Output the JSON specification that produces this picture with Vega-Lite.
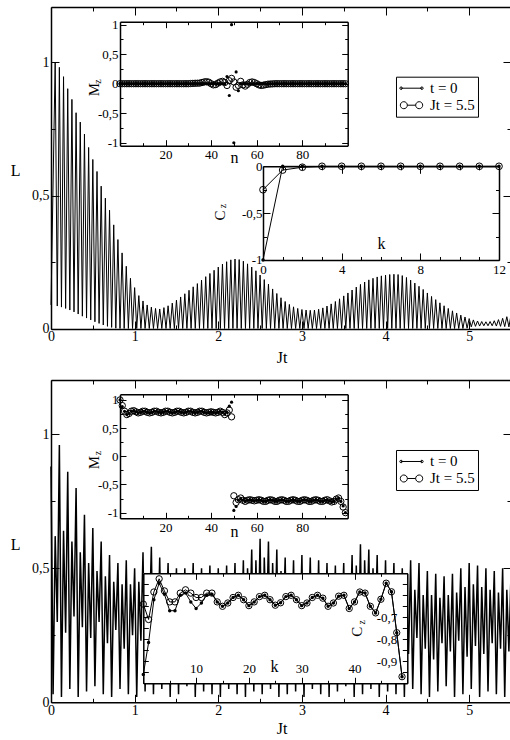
{
"$schema":"https://vega.github.io/schema/vega-lite/v6.json",
"width":460,"height":695.3,
"autosize":{"type":"none"},
"padding":{"left":51,"top":7,"right":0,"bottom":38},
"background":"white",
"config":{"view":{"stroke":null},"numberFormat":"~g",
"locale":{"number":{"decimal":",","thousands":".","grouping":[3],"currency":["",""],"minus":"-"}},
"axis":{"domainColor":"black","domainWidth":1.5,"tickColor":"black","tickWidth":1,"labelColor":"black","titleColor":"black","labelFont":"Liberation Serif","titleFont":"Liberation Serif","labelFontSize":13,"titleFontSize":15,"titleFontWeight":"normal","grid":false,"labelFlush":false,"labelOverlap":false,"zindex":1},
"legend":{"labelFont":"Liberation Serif","labelColor":"black"}},
"datasets":{
"Ltop":[{"t":0,"L":0.09},{"t":0.05,"L":1},{"t":0.075,"L":0.086},{"t":0.1,"L":0.98},{"t":0.125,"L":0.082},{"t":0.15,"L":0.945},{"t":0.175,"L":0.077},{"t":0.2,"L":0.9},{"t":0.225,"L":0.071},{"t":0.25,"L":0.86},{"t":0.275,"L":0.064},{"t":0.3,"L":0.81},{"t":0.325,"L":0.056},{"t":0.35,"L":0.775},{"t":0.375,"L":0.048},{"t":0.4,"L":0.73},{"t":0.425,"L":0.041},{"t":0.45,"L":0.68},{"t":0.475,"L":0.034},{"t":0.5,"L":0.635},{"t":0.525,"L":0.027},{"t":0.55,"L":0.59},{"t":0.575,"L":0.021},{"t":0.6,"L":0.535},{"t":0.625,"L":0.015},{"t":0.65,"L":0.49},{"t":0.675,"L":0.01},{"t":0.7,"L":0.445},{"t":0.725,"L":0.006},{"t":0.75,"L":0.39},{"t":0.775,"L":0.003},{"t":0.8,"L":0.335},{"t":0.825,"L":0.002},{"t":0.85,"L":0.285},{"t":0.875,"L":0.002},{"t":0.9,"L":0.235},{"t":0.925,"L":0.002},{"t":0.95,"L":0.19},{"t":0.975,"L":0.002},{"t":1,"L":0.155},{"t":1.025,"L":0.002},{"t":1.05,"L":0.125},{"t":1.075,"L":0.002},{"t":1.1,"L":0.105},{"t":1.125,"L":0.002},{"t":1.15,"L":0.09},{"t":1.175,"L":0.002},{"t":1.2,"L":0.082},{"t":1.225,"L":0.002},{"t":1.25,"L":0.077},{"t":1.275,"L":0.002},{"t":1.3,"L":0.075},{"t":1.325,"L":0.002},{"t":1.35,"L":0.08},{"t":1.375,"L":0.002},{"t":1.4,"L":0.087},{"t":1.425,"L":0.002},{"t":1.45,"L":0.097},{"t":1.475,"L":0.002},{"t":1.5,"L":0.108},{"t":1.525,"L":0.002},{"t":1.55,"L":0.12},{"t":1.575,"L":0.002},{"t":1.6,"L":0.132},{"t":1.625,"L":0.002},{"t":1.65,"L":0.145},{"t":1.675,"L":0.002},{"t":1.7,"L":0.158},{"t":1.725,"L":0.002},{"t":1.75,"L":0.17},{"t":1.775,"L":0.002},{"t":1.8,"L":0.183},{"t":1.825,"L":0.002},{"t":1.85,"L":0.196},{"t":1.875,"L":0.002},{"t":1.9,"L":0.208},{"t":1.925,"L":0.002},{"t":1.95,"L":0.22},{"t":1.975,"L":0.002},{"t":2,"L":0.232},{"t":2.025,"L":0.002},{"t":2.05,"L":0.243},{"t":2.075,"L":0.002},{"t":2.1,"L":0.252},{"t":2.125,"L":0.002},{"t":2.15,"L":0.259},{"t":2.175,"L":0.002},{"t":2.2,"L":0.262},{"t":2.225,"L":0.002},{"t":2.25,"L":0.26},{"t":2.275,"L":0.002},{"t":2.3,"L":0.254},{"t":2.325,"L":0.002},{"t":2.35,"L":0.244},{"t":2.375,"L":0.002},{"t":2.4,"L":0.232},{"t":2.425,"L":0.002},{"t":2.45,"L":0.218},{"t":2.475,"L":0.002},{"t":2.5,"L":0.202},{"t":2.525,"L":0.002},{"t":2.55,"L":0.185},{"t":2.575,"L":0.002},{"t":2.6,"L":0.168},{"t":2.625,"L":0.002},{"t":2.65,"L":0.15},{"t":2.675,"L":0.002},{"t":2.7,"L":0.133},{"t":2.725,"L":0.002},{"t":2.75,"L":0.117},{"t":2.775,"L":0.002},{"t":2.8,"L":0.103},{"t":2.825,"L":0.002},{"t":2.85,"L":0.092},{"t":2.875,"L":0.002},{"t":2.9,"L":0.083},{"t":2.925,"L":0.002},{"t":2.95,"L":0.077},{"t":2.975,"L":0.002},{"t":3,"L":0.073},{"t":3.025,"L":0.002},{"t":3.05,"L":0.071},{"t":3.075,"L":0.002},{"t":3.1,"L":0.07},{"t":3.125,"L":0.002},{"t":3.15,"L":0.071},{"t":3.175,"L":0.002},{"t":3.2,"L":0.074},{"t":3.225,"L":0.002},{"t":3.25,"L":0.079},{"t":3.275,"L":0.002},{"t":3.3,"L":0.086},{"t":3.325,"L":0.002},{"t":3.35,"L":0.094},{"t":3.375,"L":0.002},{"t":3.4,"L":0.103},{"t":3.425,"L":0.002},{"t":3.45,"L":0.113},{"t":3.475,"L":0.002},{"t":3.5,"L":0.124},{"t":3.525,"L":0.002},{"t":3.55,"L":0.135},{"t":3.575,"L":0.002},{"t":3.6,"L":0.146},{"t":3.625,"L":0.002},{"t":3.65,"L":0.157},{"t":3.675,"L":0.002},{"t":3.7,"L":0.167},{"t":3.725,"L":0.002},{"t":3.75,"L":0.176},{"t":3.775,"L":0.002},{"t":3.8,"L":0.184},{"t":3.825,"L":0.002},{"t":3.85,"L":0.19},{"t":3.875,"L":0.002},{"t":3.9,"L":0.195},{"t":3.925,"L":0.002},{"t":3.95,"L":0.199},{"t":3.975,"L":0.002},{"t":4,"L":0.202},{"t":4.025,"L":0.002},{"t":4.05,"L":0.204},{"t":4.075,"L":0.002},{"t":4.1,"L":0.205},{"t":4.125,"L":0.002},{"t":4.15,"L":0.204},{"t":4.175,"L":0.002},{"t":4.2,"L":0.2},{"t":4.225,"L":0.002},{"t":4.25,"L":0.193},{"t":4.275,"L":0.002},{"t":4.3,"L":0.183},{"t":4.325,"L":0.002},{"t":4.35,"L":0.172},{"t":4.375,"L":0.002},{"t":4.4,"L":0.16},{"t":4.425,"L":0.002},{"t":4.45,"L":0.148},{"t":4.475,"L":0.002},{"t":4.5,"L":0.135},{"t":4.525,"L":0.002},{"t":4.55,"L":0.122},{"t":4.575,"L":0.002},{"t":4.6,"L":0.11},{"t":4.625,"L":0.002},{"t":4.65,"L":0.098},{"t":4.675,"L":0.002},{"t":4.7,"L":0.087},{"t":4.725,"L":0.002},{"t":4.75,"L":0.077},{"t":4.775,"L":0.002},{"t":4.8,"L":0.068},{"t":4.825,"L":0.002},{"t":4.85,"L":0.06},{"t":4.875,"L":0.002},{"t":4.9,"L":0.052},{"t":4.925,"L":0.002},{"t":4.95,"L":0.045},{"t":4.975,"L":0.003},{"t":5,"L":0.039},{"t":5.025,"L":0.008},{"t":5.05,"L":0.034},{"t":5.075,"L":0.01},{"t":5.1,"L":0.03},{"t":5.125,"L":0.011},{"t":5.15,"L":0.028},{"t":5.175,"L":0.012},{"t":5.2,"L":0.027},{"t":5.225,"L":0.012},{"t":5.25,"L":0.028},{"t":5.275,"L":0.012},{"t":5.3,"L":0.031},{"t":5.325,"L":0.011},{"t":5.35,"L":0.035},{"t":5.375,"L":0.01},{"t":5.4,"L":0.04},{"t":5.425,"L":0.009},{"t":5.45,"L":0.046},{"t":5.475,"L":0.008},{"t":5.5,"L":0.052}],
"Lbot":[{"t":0,"L":0.88},{"t":0.025,"L":0.03},{"t":0.05,"L":0.62},{"t":0.075,"L":0.3},{"t":0.1,"L":0.96},{"t":0.125,"L":0.02},{"t":0.15,"L":0.64},{"t":0.175,"L":0.26},{"t":0.2,"L":0.86},{"t":0.225,"L":0.05},{"t":0.25,"L":0.6},{"t":0.275,"L":0.32},{"t":0.3,"L":0.8},{"t":0.325,"L":0.02},{"t":0.35,"L":0.56},{"t":0.375,"L":0.28},{"t":0.4,"L":0.7},{"t":0.425,"L":0.04},{"t":0.45,"L":0.52},{"t":0.475,"L":0.24},{"t":0.5,"L":0.65},{"t":0.525,"L":0.06},{"t":0.55,"L":0.49},{"t":0.575,"L":0.3},{"t":0.6,"L":0.6},{"t":0.625,"L":0.03},{"t":0.65,"L":0.47},{"t":0.675,"L":0.22},{"t":0.7,"L":0.55},{"t":0.725,"L":0.02},{"t":0.75,"L":0.45},{"t":0.775,"L":0.27},{"t":0.8,"L":0.52},{"t":0.825,"L":0.05},{"t":0.85,"L":0.44},{"t":0.875,"L":0.2},{"t":0.9,"L":0.53},{"t":0.925,"L":0.03},{"t":0.95,"L":0.44},{"t":0.975,"L":0.25},{"t":1,"L":0.5},{"t":1.025,"L":0.02},{"t":1.05,"L":0.45},{"t":1.075,"L":0.23},{"t":1.1,"L":0.56},{"t":1.125,"L":0.04},{"t":1.15,"L":0.47},{"t":1.175,"L":0.28},{"t":1.2,"L":0.58},{"t":1.225,"L":0.03},{"t":1.25,"L":0.46},{"t":1.275,"L":0.21},{"t":1.3,"L":0.54},{"t":1.325,"L":0.05},{"t":1.35,"L":0.44},{"t":1.375,"L":0.26},{"t":1.4,"L":0.52},{"t":1.425,"L":0.02},{"t":1.45,"L":0.43},{"t":1.475,"L":0.24},{"t":1.5,"L":0.5},{"t":1.525,"L":0.03},{"t":1.55,"L":0.44},{"t":1.575,"L":0.19},{"t":1.6,"L":0.5},{"t":1.625,"L":0.06},{"t":1.65,"L":0.45},{"t":1.675,"L":0.27},{"t":1.7,"L":0.52},{"t":1.725,"L":0.02},{"t":1.75,"L":0.44},{"t":1.775,"L":0.22},{"t":1.8,"L":0.5},{"t":1.825,"L":0.04},{"t":1.85,"L":0.45},{"t":1.875,"L":0.25},{"t":1.9,"L":0.51},{"t":1.925,"L":0.03},{"t":1.95,"L":0.44},{"t":1.975,"L":0.2},{"t":2,"L":0.5},{"t":2.025,"L":0.02},{"t":2.05,"L":0.45},{"t":2.075,"L":0.24},{"t":2.1,"L":0.51},{"t":2.125,"L":0.05},{"t":2.15,"L":0.46},{"t":2.175,"L":0.28},{"t":2.2,"L":0.52},{"t":2.225,"L":0.03},{"t":2.25,"L":0.47},{"t":2.275,"L":0.22},{"t":2.3,"L":0.53},{"t":2.325,"L":0.02},{"t":2.35,"L":0.5},{"t":2.375,"L":0.26},{"t":2.4,"L":0.57},{"t":2.425,"L":0.04},{"t":2.45,"L":0.53},{"t":2.475,"L":0.2},{"t":2.5,"L":0.61},{"t":2.525,"L":0.03},{"t":2.55,"L":0.54},{"t":2.575,"L":0.25},{"t":2.6,"L":0.6},{"t":2.625,"L":0.05},{"t":2.65,"L":0.52},{"t":2.675,"L":0.23},{"t":2.7,"L":0.57},{"t":2.725,"L":0.02},{"t":2.75,"L":0.49},{"t":2.775,"L":0.27},{"t":2.8,"L":0.54},{"t":2.825,"L":0.03},{"t":2.85,"L":0.47},{"t":2.875,"L":0.21},{"t":2.9,"L":0.53},{"t":2.925,"L":0.04},{"t":2.95,"L":0.48},{"t":2.975,"L":0.24},{"t":3,"L":0.55},{"t":3.025,"L":0.02},{"t":3.05,"L":0.48},{"t":3.075,"L":0.26},{"t":3.1,"L":0.54},{"t":3.125,"L":0.05},{"t":3.15,"L":0.46},{"t":3.175,"L":0.2},{"t":3.2,"L":0.53},{"t":3.225,"L":0.03},{"t":3.25,"L":0.45},{"t":3.275,"L":0.25},{"t":3.3,"L":0.52},{"t":3.325,"L":0.02},{"t":3.35,"L":0.44},{"t":3.375,"L":0.22},{"t":3.4,"L":0.51},{"t":3.425,"L":0.04},{"t":3.45,"L":0.45},{"t":3.475,"L":0.27},{"t":3.5,"L":0.52},{"t":3.525,"L":0.06},{"t":3.55,"L":0.47},{"t":3.575,"L":0.23},{"t":3.6,"L":0.55},{"t":3.625,"L":0.02},{"t":3.65,"L":0.51},{"t":3.675,"L":0.2},{"t":3.7,"L":0.59},{"t":3.725,"L":0.03},{"t":3.75,"L":0.53},{"t":3.775,"L":0.26},{"t":3.8,"L":0.57},{"t":3.825,"L":0.05},{"t":3.85,"L":0.5},{"t":3.875,"L":0.24},{"t":3.9,"L":0.55},{"t":3.925,"L":0.02},{"t":3.95,"L":0.48},{"t":3.975,"L":0.21},{"t":4,"L":0.53},{"t":4.025,"L":0.04},{"t":4.05,"L":0.47},{"t":4.075,"L":0.25},{"t":4.1,"L":0.52},{"t":4.125,"L":0.03},{"t":4.15,"L":0.45},{"t":4.175,"L":0.22},{"t":4.2,"L":0.5},{"t":4.225,"L":0.02},{"t":4.25,"L":0.43},{"t":4.275,"L":0.18},{"t":4.3,"L":0.53},{"t":4.325,"L":0.05},{"t":4.35,"L":0.42},{"t":4.375,"L":0.24},{"t":4.4,"L":0.52},{"t":4.425,"L":0.03},{"t":4.45,"L":0.4},{"t":4.475,"L":0.2},{"t":4.5,"L":0.49},{"t":4.525,"L":0.02},{"t":4.55,"L":0.4},{"t":4.575,"L":0.16},{"t":4.6,"L":0.48},{"t":4.625,"L":0.04},{"t":4.65,"L":0.39},{"t":4.675,"L":0.22},{"t":4.7,"L":0.47},{"t":4.725,"L":0.06},{"t":4.75,"L":0.4},{"t":4.775,"L":0.19},{"t":4.8,"L":0.48},{"t":4.825,"L":0.02},{"t":4.85,"L":0.41},{"t":4.875,"L":0.23},{"t":4.9,"L":0.5},{"t":4.925,"L":0.03},{"t":4.95,"L":0.43},{"t":4.975,"L":0.17},{"t":5,"L":0.52},{"t":5.025,"L":0.05},{"t":5.05,"L":0.44},{"t":5.075,"L":0.21},{"t":5.1,"L":0.51},{"t":5.125,"L":0.02},{"t":5.15,"L":0.43},{"t":5.175,"L":0.18},{"t":5.2,"L":0.5},{"t":5.225,"L":0.04},{"t":5.25,"L":0.42},{"t":5.275,"L":0.22},{"t":5.3,"L":0.49},{"t":5.325,"L":0.03},{"t":5.35,"L":0.41},{"t":5.375,"L":0.2},{"t":5.4,"L":0.5},{"t":5.425,"L":0.02},{"t":5.45,"L":0.42},{"t":5.475,"L":0.19},{"t":5.5,"L":0.48}],
"Mtop":[{"n":0,"a":0,"b":0},{"n":1,"a":0,"b":0},{"n":2,"a":0,"b":0},{"n":3,"a":0,"b":0},{"n":4,"a":0,"b":0},{"n":5,"a":0,"b":0},{"n":6,"a":0,"b":0},{"n":7,"a":0,"b":0},{"n":8,"a":0,"b":0},{"n":9,"a":0,"b":0},{"n":10,"a":0,"b":0},{"n":11,"a":0,"b":0},{"n":12,"a":0,"b":0},{"n":13,"a":0,"b":0},{"n":14,"a":0,"b":0},{"n":15,"a":0,"b":0},{"n":16,"a":0,"b":0},{"n":17,"a":0,"b":0},{"n":18,"a":0,"b":0},{"n":19,"a":0,"b":0},{"n":20,"a":0,"b":0},{"n":21,"a":0,"b":0},{"n":22,"a":0,"b":0},{"n":23,"a":0,"b":0},{"n":24,"a":0,"b":0},{"n":25,"a":0,"b":0},{"n":26,"a":0,"b":0},{"n":27,"a":0,"b":0},{"n":28,"a":0,"b":0},{"n":29,"a":0,"b":0},{"n":30,"a":0,"b":0},{"n":31,"a":0,"b":0.003},{"n":32,"a":0,"b":0.005},{"n":33,"a":0,"b":0.007},{"n":34,"a":0,"b":0.008},{"n":35,"a":0,"b":0.01},{"n":36,"a":0,"b":0.02},{"n":37,"a":0,"b":0.03},{"n":38,"a":0,"b":0.035},{"n":39,"a":0,"b":0.025},{"n":40,"a":0,"b":0},{"n":41,"a":0,"b":-0.02},{"n":42,"a":0,"b":-0.015},{"n":43,"a":0,"b":0.01},{"n":44,"a":0,"b":0.03},{"n":45,"a":0,"b":0.04},{"n":46,"a":0,"b":0.02},{"n":47,"a":0.12,"b":-0.03},{"n":48,"a":-0.2,"b":0.05},{"n":49,"a":1,"b":0.09},{"n":50,"a":-1,"b":0.03},{"n":51,"a":0.2,"b":-0.06},{"n":52,"a":-0.12,"b":-0.03},{"n":53,"a":0,"b":0.04},{"n":54,"a":0,"b":-0.02},{"n":55,"a":0,"b":-0.04},{"n":56,"a":0,"b":-0.01},{"n":57,"a":0,"b":0.02},{"n":58,"a":0,"b":0.03},{"n":59,"a":0,"b":0.02},{"n":60,"a":0,"b":0},{"n":61,"a":0,"b":-0.02},{"n":62,"a":0,"b":-0.03},{"n":63,"a":0,"b":-0.025},{"n":64,"a":0,"b":-0.015},{"n":65,"a":0,"b":-0.008},{"n":66,"a":0,"b":-0.005},{"n":67,"a":0,"b":-0.003},{"n":68,"a":0,"b":0},{"n":69,"a":0,"b":0},{"n":70,"a":0,"b":0},{"n":71,"a":0,"b":0},{"n":72,"a":0,"b":0},{"n":73,"a":0,"b":0},{"n":74,"a":0,"b":0},{"n":75,"a":0,"b":0},{"n":76,"a":0,"b":0},{"n":77,"a":0,"b":0},{"n":78,"a":0,"b":0},{"n":79,"a":0,"b":0},{"n":80,"a":0,"b":0},{"n":81,"a":0,"b":0},{"n":82,"a":0,"b":0},{"n":83,"a":0,"b":0},{"n":84,"a":0,"b":0},{"n":85,"a":0,"b":0},{"n":86,"a":0,"b":0},{"n":87,"a":0,"b":0},{"n":88,"a":0,"b":0},{"n":89,"a":0,"b":0},{"n":90,"a":0,"b":0},{"n":91,"a":0,"b":0},{"n":92,"a":0,"b":0},{"n":93,"a":0,"b":0},{"n":94,"a":0,"b":0},{"n":95,"a":0,"b":0},{"n":96,"a":0,"b":0},{"n":97,"a":0,"b":0},{"n":98,"a":0,"b":0},{"n":99,"a":0,"b":0}],
"Mbot":[{"n":0,"a":1,"b":1},{"n":1,"a":0.88,"b":0.9},{"n":2,"a":0.8,"b":0.8},{"n":3,"a":0.74,"b":0.74},{"n":4,"a":0.76,"b":0.76},{"n":5,"a":0.8,"b":0.8},{"n":6,"a":0.81,"b":0.81},{"n":7,"a":0.79,"b":0.79},{"n":8,"a":0.77,"b":0.77},{"n":9,"a":0.78,"b":0.78},{"n":10,"a":0.8,"b":0.8},{"n":11,"a":0.8,"b":0.8},{"n":12,"a":0.78,"b":0.78},{"n":13,"a":0.77,"b":0.77},{"n":14,"a":0.78,"b":0.78},{"n":15,"a":0.8,"b":0.8},{"n":16,"a":0.8,"b":0.8},{"n":17,"a":0.78,"b":0.78},{"n":18,"a":0.77,"b":0.77},{"n":19,"a":0.78,"b":0.78},{"n":20,"a":0.8,"b":0.8},{"n":21,"a":0.8,"b":0.8},{"n":22,"a":0.78,"b":0.78},{"n":23,"a":0.77,"b":0.77},{"n":24,"a":0.78,"b":0.78},{"n":25,"a":0.8,"b":0.8},{"n":26,"a":0.8,"b":0.8},{"n":27,"a":0.78,"b":0.78},{"n":28,"a":0.77,"b":0.77},{"n":29,"a":0.78,"b":0.78},{"n":30,"a":0.8,"b":0.8},{"n":31,"a":0.8,"b":0.8},{"n":32,"a":0.78,"b":0.78},{"n":33,"a":0.77,"b":0.77},{"n":34,"a":0.78,"b":0.78},{"n":35,"a":0.8,"b":0.8},{"n":36,"a":0.8,"b":0.8},{"n":37,"a":0.78,"b":0.78},{"n":38,"a":0.77,"b":0.77},{"n":39,"a":0.78,"b":0.78},{"n":40,"a":0.79,"b":0.79},{"n":41,"a":0.78,"b":0.78},{"n":42,"a":0.77,"b":0.77},{"n":43,"a":0.78,"b":0.78},{"n":44,"a":0.8,"b":0.8},{"n":45,"a":0.78,"b":0.78},{"n":46,"a":0.75,"b":0.74},{"n":47,"a":0.78,"b":0.77},{"n":48,"a":0.89,"b":0.82},{"n":49,"a":0.96,"b":0.7},{"n":50,"a":-0.96,"b":-0.7},{"n":51,"a":-0.89,"b":-0.82},{"n":52,"a":-0.78,"b":-0.77},{"n":53,"a":-0.75,"b":-0.74},{"n":54,"a":-0.78,"b":-0.78},{"n":55,"a":-0.8,"b":-0.8},{"n":56,"a":-0.78,"b":-0.78},{"n":57,"a":-0.77,"b":-0.77},{"n":58,"a":-0.78,"b":-0.78},{"n":59,"a":-0.79,"b":-0.79},{"n":60,"a":-0.78,"b":-0.78},{"n":61,"a":-0.77,"b":-0.77},{"n":62,"a":-0.78,"b":-0.78},{"n":63,"a":-0.8,"b":-0.8},{"n":64,"a":-0.8,"b":-0.8},{"n":65,"a":-0.78,"b":-0.78},{"n":66,"a":-0.77,"b":-0.77},{"n":67,"a":-0.78,"b":-0.78},{"n":68,"a":-0.8,"b":-0.8},{"n":69,"a":-0.8,"b":-0.8},{"n":70,"a":-0.78,"b":-0.78},{"n":71,"a":-0.77,"b":-0.77},{"n":72,"a":-0.78,"b":-0.78},{"n":73,"a":-0.8,"b":-0.8},{"n":74,"a":-0.8,"b":-0.8},{"n":75,"a":-0.78,"b":-0.78},{"n":76,"a":-0.77,"b":-0.77},{"n":77,"a":-0.78,"b":-0.78},{"n":78,"a":-0.8,"b":-0.8},{"n":79,"a":-0.8,"b":-0.8},{"n":80,"a":-0.78,"b":-0.78},{"n":81,"a":-0.77,"b":-0.77},{"n":82,"a":-0.78,"b":-0.78},{"n":83,"a":-0.8,"b":-0.8},{"n":84,"a":-0.8,"b":-0.8},{"n":85,"a":-0.78,"b":-0.78},{"n":86,"a":-0.77,"b":-0.77},{"n":87,"a":-0.78,"b":-0.78},{"n":88,"a":-0.8,"b":-0.8},{"n":89,"a":-0.8,"b":-0.8},{"n":90,"a":-0.78,"b":-0.78},{"n":91,"a":-0.77,"b":-0.77},{"n":92,"a":-0.79,"b":-0.79},{"n":93,"a":-0.81,"b":-0.81},{"n":94,"a":-0.8,"b":-0.8},{"n":95,"a":-0.76,"b":-0.76},{"n":96,"a":-0.74,"b":-0.74},{"n":97,"a":-0.8,"b":-0.8},{"n":98,"a":-0.88,"b":-0.9},{"n":99,"a":-1,"b":-1}],
"Ctop":[{"k":0,"a":-1,"b":-0.25},{"k":1,"a":0,"b":-0.04},{"k":2,"a":0,"b":-0.01},{"k":3,"a":0,"b":0},{"k":4,"a":0,"b":0},{"k":5,"a":0,"b":0},{"k":6,"a":0,"b":0},{"k":7,"a":0,"b":0},{"k":8,"a":0,"b":0},{"k":9,"a":0,"b":0},{"k":10,"a":0,"b":0},{"k":11,"a":0,"b":0},{"k":12,"a":0,"b":0}],
"Cbot":[{"k":0,"a":-0.96,"b":-0.64},{"k":1,"a":-0.815,"b":-0.71},{"k":2,"a":-0.62,"b":-0.585},{"k":3,"a":-0.545,"b":-0.525},{"k":4,"a":-0.595,"b":-0.58},{"k":5,"a":-0.67,"b":-0.63},{"k":6,"a":-0.67,"b":-0.63},{"k":7,"a":-0.6,"b":-0.59},{"k":8,"a":-0.59,"b":-0.575},{"k":9,"a":-0.63,"b":-0.59},{"k":10,"a":-0.66,"b":-0.61},{"k":11,"a":-0.635,"b":-0.61},{"k":12,"a":-0.6,"b":-0.59},{"k":13,"a":-0.595,"b":-0.59},{"k":14,"a":-0.63,"b":-0.63},{"k":15,"a":-0.65,"b":-0.65},{"k":16,"a":-0.635,"b":-0.635},{"k":17,"a":-0.61,"b":-0.61},{"k":18,"a":-0.6,"b":-0.6},{"k":19,"a":-0.62,"b":-0.62},{"k":20,"a":-0.647,"b":-0.647},{"k":21,"a":-0.63,"b":-0.63},{"k":22,"a":-0.606,"b":-0.606},{"k":23,"a":-0.6,"b":-0.6},{"k":24,"a":-0.62,"b":-0.62},{"k":25,"a":-0.645,"b":-0.645},{"k":26,"a":-0.634,"b":-0.634},{"k":27,"a":-0.606,"b":-0.606},{"k":28,"a":-0.6,"b":-0.6},{"k":29,"a":-0.62,"b":-0.62},{"k":30,"a":-0.647,"b":-0.647},{"k":31,"a":-0.635,"b":-0.635},{"k":32,"a":-0.61,"b":-0.61},{"k":33,"a":-0.6,"b":-0.6},{"k":34,"a":-0.613,"b":-0.613},{"k":35,"a":-0.65,"b":-0.65},{"k":36,"a":-0.635,"b":-0.635},{"k":37,"a":-0.604,"b":-0.604},{"k":38,"a":-0.6,"b":-0.6},{"k":39,"a":-0.66,"b":-0.66},{"k":40,"a":-0.63,"b":-0.63},{"k":41,"a":-0.585,"b":-0.585},{"k":42,"a":-0.59,"b":-0.59},{"k":43,"a":-0.65,"b":-0.65},{"k":44,"a":-0.68,"b":-0.68},{"k":45,"a":-0.618,"b":-0.618},{"k":46,"a":-0.545,"b":-0.545},{"k":47,"a":-0.584,"b":-0.584},{"k":48,"a":-0.77,"b":-0.77},{"k":49,"a":-0.97,"b":-0.97}],
"leg":[{"s":"t = 0"},{"s":"Jt = 5.5"}]
},
"resolve":{"scale":{"x":"independent","y":"independent","shape":"independent"},"legend":{"shape":"independent"}},
"layer":[
{"data":{"name":"Ltop"},"mark":{"type":"line","color":"black","strokeWidth":1},
 "encoding":{
 "x":{"field":"t","type":"quantitative","scale":{"domain":[0,5.5],"range":[0,460],"nice":false,"zero":false},
  "axis":{"zindex":1,"orient":"bottom","offset":-373.3,"values":[0,0.5,1,1.5,2,2.5,3,3.5,4,4.5,5,5.5],"labelExpr":"datum.value % 1 === 0 ? datum.label : ''","tickSize":{"condition":{"test":"datum.value % 1 === 0","value":-8},"value":-4},"labelPadding":9,"labelFontSize":14,"title":"Jt","titleX":230.7,"titleY":34,"titleAlign":"center","titleBaseline":"alphabetic","titleFontSize":16}},
 "y":{"field":"L","type":"quantitative","scale":{"domain":[0,1.206],"range":[322,0],"nice":false,"zero":false},
  "axis":{"zindex":1,"orient":"left","values":[0,0.25,0.5,0.75,1],"labelExpr":"(datum.value*2) % 1 === 0 ? datum.label : ''","tickSize":{"condition":{"test":"(datum.value*2) % 1 === 0","value":-8},"value":-4},"labelPadding":10,"labelFontSize":14,"title":"L","titleAngle":0,"titleX":-36,"titleY":168.7,"titleAlign":"center","titleBaseline":"alphabetic","titleFontSize":16}}}},
{"data":{"values":[{}]},"mark":{"type":"point","opacity":0},
 "encoding":{
 "x":{"datum":0,"type":"quantitative","scale":{"domain":[0,5.5],"range":[0,460],"nice":false,"zero":false},
  "axis":{"zindex":1,"orient":"top","values":[0,0.5,1,1.5,2,2.5,3,3.5,4,4.5,5,5.5],"labels":false,"tickSize":{"condition":{"test":"datum.value % 1 === 0","value":-8},"value":-4},"title":null}},
 "y":{"datum":0,"type":"quantitative","scale":{"domain":[0,1.206],"range":[322,0],"nice":false,"zero":false},
  "axis":{"zindex":1,"orient":"right","values":[0,0.25,0.5,0.75,1],"labels":false,"tickSize":{"condition":{"test":"(datum.value*2) % 1 === 0","value":-8},"value":-4},"title":null}}}},
{"data":{"values":[{}]},"mark":{"type":"rect","fill":"white"},
 "encoding":{
 "x":{"datum":0,"type":"quantitative","scale":{"domain":[0,100],"range":[69,296.7],"nice":false,"zero":false},"axis":null},"x2":{"datum":100},
 "y":{"datum":-1.05,"type":"quantitative","scale":{"domain":[-1.05,1.05],"range":[138.7,14.7],"nice":false,"zero":false},"axis":null},"y2":{"datum":1.05}}},
{"data":{"name":"Mtop"},
 "encoding":{
  "x":{"field":"n","type":"quantitative","scale":{"domain":[0,100],"range":[69,296.7],"nice":false,"zero":false},
   "axis":{"zindex":1,"orient":"bottom","offset":-556.6,"values":[10,20,30,40,50,60,70,80,90],"format":"d","labelExpr":"datum.value % 20 === 0 ? datum.label : ''","tickSize":{"condition":{"test":"datum.value % 20 === 0","value":-6},"value":-3},"labelPadding":9,"title":"n","titleX":183,"titleY":17.3,"titleAlign":"center","titleBaseline":"alphabetic","titleFontSize":16}},
  "y":{"field":"b","type":"quantitative","scale":{"domain":[-1.05,1.05],"range":[138.7,14.7],"nice":false,"zero":false},
   "axis":{"zindex":1,"orient":"left","offset":-69,"values":[-1,-0.75,-0.5,-0.25,0,0.25,0.5,0.75,1],"labelExpr":"(datum.value*2) % 1 === 0 ? datum.label : ''","tickSize":{"condition":{"test":"(datum.value*2) % 1 === 0","value":-6},"value":-3},"labelPadding":8,"title":"M","titleX":-26.7,"titleY":82,"titleAngle":270,"titleAlign":"center","titleBaseline":"middle","titleFontSize":15}}},
 "layer":[
 {"mark":{"type":"point","shape":"circle","filled":false,"size":40,"color":"black","strokeWidth":1,"opacity":1}},
 {"mark":{"type":"point","shape":"circle","filled":true,"size":10,"color":"black","opacity":1},"encoding":{
  "y":{"field":"a","type":"quantitative"}}}
]},
{"data":{"values":[{}]},"mark":{"type":"point","opacity":0},
 "encoding":{
 "x":{"datum":0,"type":"quantitative","scale":{"domain":[0,100],"range":[69,296.7],"nice":false,"zero":false},
  "axis":{"zindex":1,"orient":"top","offset":-14.7,"values":[10,20,30,40,50,60,70,80,90],"labels":false,"tickSize":{"condition":{"test":"datum.value % 20 === 0","value":-6},"value":-3},"title":null}},
 "y":{"datum":0,"type":"quantitative","scale":{"domain":[-1.05,1.05],"range":[138.7,14.7],"nice":false,"zero":false},
  "axis":{"zindex":1,"orient":"right","offset":-163.3,"values":[-1,-0.75,-0.5,-0.25,0,0.25,0.5,0.75,1],"labels":false,"tickSize":{"condition":{"test":"(datum.value*2) % 1 === 0","value":-6},"value":-3},"title":"z","titleX":-250.5,"titleY":74,"titleAngle":270,"titleAlign":"center","titleBaseline":"middle","titleFontSize":10}}}},
{"data":{"values":[{}]},"mark":{"type":"rect","fill":"white"},
 "encoding":{
 "x":{"datum":0,"type":"quantitative","scale":{"domain":[0,12],"range":[212,448],"nice":false,"zero":false},"axis":null},"x2":{"datum":12},
 "y":{"datum":-1,"type":"quantitative","scale":{"domain":[-1,0],"range":[253,159.3],"nice":false,"zero":false},"axis":null},"y2":{"datum":0}}},
{"data":{"name":"Ctop"},
 "encoding":{
  "x":{"field":"k","type":"quantitative","scale":{"domain":[0,12],"range":[212,448],"nice":false,"zero":false},
   "axis":{"zindex":1,"orient":"bottom","offset":-442.3,"values":[0,1,2,3,4,5,6,7,8,9,10,11,12],"format":"d","labelExpr":"datum.value % 4 === 0 ? datum.label : ''","tickSize":{"condition":{"test":"datum.value % 4 === 0","value":-7},"value":-3.5},"labelPadding":10.2,"title":"k","titleX":330,"titleY":-11.7,"titleAlign":"center","titleBaseline":"alphabetic","titleFontSize":16}},
  "y":{"field":"b","type":"quantitative","scale":{"domain":[-1,0],"range":[253,159.3],"nice":false,"zero":false},
   "axis":{"zindex":1,"orient":"left","offset":-212,"values":[-1,-0.75,-0.5,-0.25,0],"labelExpr":"(datum.value*2) % 1 === 0 ? datum.label : ''","tickSize":{"condition":{"test":"(datum.value*2) % 1 === 0","value":-7},"value":-3.5},"labelPadding":8,"title":"C","titleX":-43.5,"titleY":208,"titleAngle":270,"titleAlign":"center","titleBaseline":"middle","titleFontSize":15}}},
 "layer":[
 {"mark":{"type":"line","color":"black","strokeWidth":1},"encoding":{"y":{"field":"a","type":"quantitative"}}},
 {"mark":{"type":"line","color":"black","strokeWidth":1}},
 {"mark":{"type":"point","shape":"circle","filled":false,"size":45,"color":"black","strokeWidth":1,"opacity":1}},
 {"mark":{"type":"point","shape":"circle","filled":true,"size":12,"color":"black","opacity":1},"encoding":{"y":{"field":"a","type":"quantitative"}}}
]},
{"data":{"values":[{}]},"mark":{"type":"point","opacity":0},
 "encoding":{
 "x":{"datum":0,"type":"quantitative","scale":{"domain":[0,12],"range":[212,448],"nice":false,"zero":false},
  "axis":{"zindex":1,"orient":"top","offset":-159.3,"values":[0,1,2,3,4,5,6,7,8,9,10,11,12],"labels":false,"tickSize":{"condition":{"test":"datum.value % 4 === 0","value":-7},"value":-3.5},"title":null}},
 "y":{"datum":0,"type":"quantitative","scale":{"domain":[-1,0],"range":[253,159.3],"nice":false,"zero":false},
  "axis":{"zindex":1,"orient":"right","offset":-12,"values":[-1,-0.75,-0.5,-0.25,0],"labels":false,"tickSize":{"condition":{"test":"(datum.value*2) % 1 === 0","value":-7},"value":-3.5},"title":"z","titleX":-276.5,"titleY":198.5,"titleAngle":270,"titleAlign":"center","titleBaseline":"middle","titleFontSize":10}}}},
{"data":{"name":"leg"},"mark":{"type":"point","opacity":0,"filled":false,"stroke":"black","strokeWidth":1},
 "encoding":{"shape":{"field":"s","type":"nominal","scale":{"domain":["t = 0","Jt = 5.5"],"range":["M-1.3,0L1.3,0M-1.46,0a0.16,0.16 0 1,0 0.32,0a0.16,0.16 0 1,0 -0.32,0M1.14,0a0.16,0.16 0 1,0 0.32,0a0.16,0.16 0 1,0 -0.32,0","M-1.4,0a0.44,0.44 0 1,0 0.88,0a0.44,0.44 0 1,0 -0.88,0M-0.52,0L0.52,0M0.52,0a0.44,0.44 0 1,0 0.88,0a0.44,0.44 0 1,0 -0.88,0"]},
 "legend":{"orient":"none","legendX":345,"legendY":69.7,"title":null,"strokeColor":"black","fillColor":"white","padding":3,"symbolSize":256,"symbolStrokeWidth":1,"symbolStrokeColor":"black","symbolFillColor":"white","labelFontSize":15,"labelOffset":10,"symbolOffset":4,"rowPadding":0,"zindex":2}}}},

{"data":{"name":"Lbot"},"mark":{"type":"line","color":"black","strokeWidth":1.5},
 "encoding":{
 "x":{"field":"t","type":"quantitative","scale":{"domain":[0,5.5],"range":[0,460],"nice":false,"zero":false},
  "axis":{"zindex":1,"orient":"bottom","values":[0,0.5,1,1.5,2,2.5,3,3.5,4,4.5,5,5.5],"labelExpr":"datum.value % 1 === 0 ? datum.label : ''","tickSize":{"condition":{"test":"datum.value % 1 === 0","value":-8},"value":-4},"labelPadding":9,"labelFontSize":14,"title":"Jt","titleX":230.7,"titleY":31.7,"titleAlign":"center","titleBaseline":"alphabetic","titleFontSize":16}},
 "y":{"field":"L","type":"quantitative","scale":{"domain":[0,1.2026],"range":[695.3,373],"nice":false,"zero":false},
  "axis":{"zindex":1,"orient":"left","values":[0,0.25,0.5,0.75,1],"labelExpr":"(datum.value*2) % 1 === 0 ? datum.label : ''","tickSize":{"condition":{"test":"(datum.value*2) % 1 === 0","value":-8},"value":-4},"labelPadding":10,"labelFontSize":14,"title":"L","titleAngle":0,"titleX":-36,"titleY":543,"titleAlign":"center","titleBaseline":"alphabetic","titleFontSize":16}}}},
{"data":{"values":[{}]},"mark":{"type":"point","opacity":0},
 "encoding":{
 "x":{"datum":0,"type":"quantitative","scale":{"domain":[0,5.5],"range":[0,460],"nice":false,"zero":false},
  "axis":{"zindex":1,"orient":"top","offset":-373,"values":[0,0.5,1,1.5,2,2.5,3,3.5,4,4.5,5,5.5],"labels":false,"tickSize":{"condition":{"test":"datum.value % 1 === 0","value":-8},"value":-4},"title":null}},
 "y":{"datum":0,"type":"quantitative","scale":{"domain":[0,1.2026],"range":[695.3,373],"nice":false,"zero":false},
  "axis":{"zindex":1,"orient":"right","values":[0,0.25,0.5,0.75,1],"labels":false,"tickSize":{"condition":{"test":"(datum.value*2) % 1 === 0","value":-8},"value":-4},"title":null}}}},
{"data":{"values":[{}]},"mark":{"type":"rect","fill":"white"},
 "encoding":{
 "x":{"datum":0,"type":"quantitative","scale":{"domain":[0,100],"range":[69,296.7],"nice":false,"zero":false},"axis":null},"x2":{"datum":100},
 "y":{"datum":-1.1,"type":"quantitative","scale":{"domain":[-1.1,1.1],"range":[511.3,387.3],"nice":false,"zero":false},"axis":null},"y2":{"datum":1.1}}},
{"data":{"name":"Mbot"},
 "encoding":{
  "x":{"field":"n","type":"quantitative","scale":{"domain":[0,100],"range":[69,296.7],"nice":false,"zero":false},
   "axis":{"zindex":1,"orient":"bottom","offset":-184,"values":[10,20,30,40,50,60,70,80,90],"format":"d","labelExpr":"datum.value % 20 === 0 ? datum.label : ''","tickSize":{"condition":{"test":"datum.value % 20 === 0","value":-6},"value":-3},"labelPadding":9,"title":"n","titleX":183,"titleY":18.4,"titleAlign":"center","titleBaseline":"alphabetic","titleFontSize":16}},
  "y":{"field":"b","type":"quantitative","scale":{"domain":[-1.1,1.1],"range":[511.3,387.3],"nice":false,"zero":false},
   "axis":{"zindex":1,"orient":"left","offset":-69,"values":[-1,-0.75,-0.5,-0.25,0,0.25,0.5,0.75,1],"labelExpr":"(datum.value*2) % 1 === 0 ? datum.label : ''","tickSize":{"condition":{"test":"(datum.value*2) % 1 === 0","value":-6},"value":-3},"labelPadding":8,"title":"M","titleX":-26.7,"titleY":455,"titleAngle":270,"titleAlign":"center","titleBaseline":"middle","titleFontSize":15}}},
 "layer":[
 {"mark":{"type":"point","shape":"circle","filled":false,"size":40,"color":"black","strokeWidth":1,"opacity":1}},
 {"mark":{"type":"point","shape":"circle","filled":true,"size":10,"color":"black","opacity":1},"encoding":{"y":{"field":"a","type":"quantitative"}}}
]},
{"data":{"values":[{}]},"mark":{"type":"point","opacity":0},
 "encoding":{
 "x":{"datum":0,"type":"quantitative","scale":{"domain":[0,100],"range":[69,296.7],"nice":false,"zero":false},
  "axis":{"zindex":1,"orient":"top","offset":-387.3,"values":[10,20,30,40,50,60,70,80,90],"labels":false,"tickSize":{"condition":{"test":"datum.value % 20 === 0","value":-6},"value":-3},"title":null}},
 "y":{"datum":0,"type":"quantitative","scale":{"domain":[-1.1,1.1],"range":[511.3,387.3],"nice":false,"zero":false},
  "axis":{"zindex":1,"orient":"right","offset":-163.3,"values":[-1,-0.75,-0.5,-0.25,0,0.25,0.5,0.75,1],"labels":false,"tickSize":{"condition":{"test":"(datum.value*2) % 1 === 0","value":-6},"value":-3},"title":"z","titleX":-250.7,"titleY":445.5,"titleAngle":270,"titleAlign":"center","titleBaseline":"middle","titleFontSize":10}}}},
{"data":{"values":[{}]},"mark":{"type":"rect","fill":"white"},
 "encoding":{
 "x":{"datum":0,"type":"quantitative","scale":{"domain":[0,50],"range":[92.3,356.3],"nice":false,"zero":false},"axis":null},"x2":{"datum":50},
 "y":{"datum":-1,"type":"quantitative","scale":{"domain":[-1,-0.5],"range":[676.3,566.3],"nice":false,"zero":false},"axis":null},"y2":{"datum":-0.5}}},
{"data":{"name":"Cbot"},
 "encoding":{
  "x":{"field":"k","type":"quantitative","scale":{"domain":[0,50],"range":[92.3,356.3],"nice":false,"zero":false},
   "axis":{"zindex":1,"orient":"bottom","offset":-19,"values":[0,5,10,15,20,25,30,35,40,45,50],"format":"d","labelExpr":"datum.value % 10 === 0 && datum.value > 0 && datum.value < 50 ? datum.label : ''","tickSize":{"condition":{"test":"datum.value % 10 === 0","value":-6},"value":-3},"labelPadding":-8.6,"labelBaseline":"middle","title":"k","titleX":223,"titleY":-11.6,"titleAlign":"center","titleBaseline":"alphabetic","titleFontSize":16}},
  "y":{"field":"b","type":"quantitative","scale":{"domain":[-1,-0.5],"range":[676.3,566.3],"nice":false,"zero":false},
   "axis":{"zindex":1,"orient":"right","offset":-103.7,"values":[-1,-0.95,-0.9,-0.85,-0.8,-0.75,-0.7,-0.65,-0.6,-0.55,-0.5],"labelExpr":"(abs(datum.value+0.7)<0.001 || abs(datum.value+0.8)<0.001 || abs(datum.value+0.9)<0.001) ? datum.label : ''","tickSize":-5,"labelPadding":-5.6,"labelAlign":"right","title":"C","titleX":-50.6,"titleY":624.3,"titleAngle":270,"titleAlign":"center","titleBaseline":"middle","titleFontSize":15}}},
 "layer":[
 {"mark":{"type":"line","color":"black","strokeWidth":1},"encoding":{"y":{"field":"a","type":"quantitative"}}},
 {"mark":{"type":"line","color":"black","strokeWidth":1}},
 {"mark":{"type":"point","shape":"circle","filled":false,"size":40,"color":"black","strokeWidth":1,"opacity":1}},
 {"mark":{"type":"point","shape":"circle","filled":true,"size":12,"color":"black","opacity":1},"encoding":{"y":{"field":"a","type":"quantitative"}}}
]},
{"data":{"values":[{}]},"mark":{"type":"point","opacity":0},
 "encoding":{
 "x":{"datum":0,"type":"quantitative","scale":{"domain":[0,50],"range":[92.3,356.3],"nice":false,"zero":false},
  "axis":{"zindex":1,"orient":"top","offset":-566.3,"values":[0,5,10,15,20,25,30,35,40,45,50],"labels":false,"tickSize":{"condition":{"test":"datum.value % 10 === 0","value":-6},"value":-3},"title":null}},
 "y":{"datum":-1,"type":"quantitative","scale":{"domain":[-1,-0.5],"range":[676.3,566.3],"nice":false,"zero":false},
  "axis":{"zindex":1,"orient":"left","offset":-92.3,"values":[-1,-0.95,-0.9,-0.85,-0.8,-0.75,-0.7,-0.65,-0.6,-0.55,-0.5],"labels":false,"tickSize":-5,"title":"z","titleX":218.4,"titleY":614.7,"titleAngle":270,"titleAlign":"center","titleBaseline":"middle","titleFontSize":10}}}},
{"data":{"name":"leg"},"mark":{"type":"point","opacity":0,"filled":false,"stroke":"black","strokeWidth":1},
 "encoding":{"shape":{"field":"s","type":"nominal","scale":{"domain":["t = 0","Jt = 5.5"],"range":["M-1.3,0L1.3,0M-1.46,0a0.16,0.16 0 1,0 0.32,0a0.16,0.16 0 1,0 -0.32,0M1.14,0a0.16,0.16 0 1,0 0.32,0a0.16,0.16 0 1,0 -0.32,0","M-1.4,0a0.44,0.44 0 1,0 0.88,0a0.44,0.44 0 1,0 -0.88,0M-0.52,0L0.52,0M0.52,0a0.44,0.44 0 1,0 0.88,0a0.44,0.44 0 1,0 -0.88,0"]},
 "legend":{"orient":"none","legendX":345,"legendY":443,"title":null,"strokeColor":"black","fillColor":"white","padding":3,"symbolSize":256,"symbolStrokeWidth":1,"symbolStrokeColor":"black","symbolFillColor":"white","labelFontSize":15,"labelOffset":10,"symbolOffset":4,"rowPadding":0,"zindex":2}}}}
]
}
